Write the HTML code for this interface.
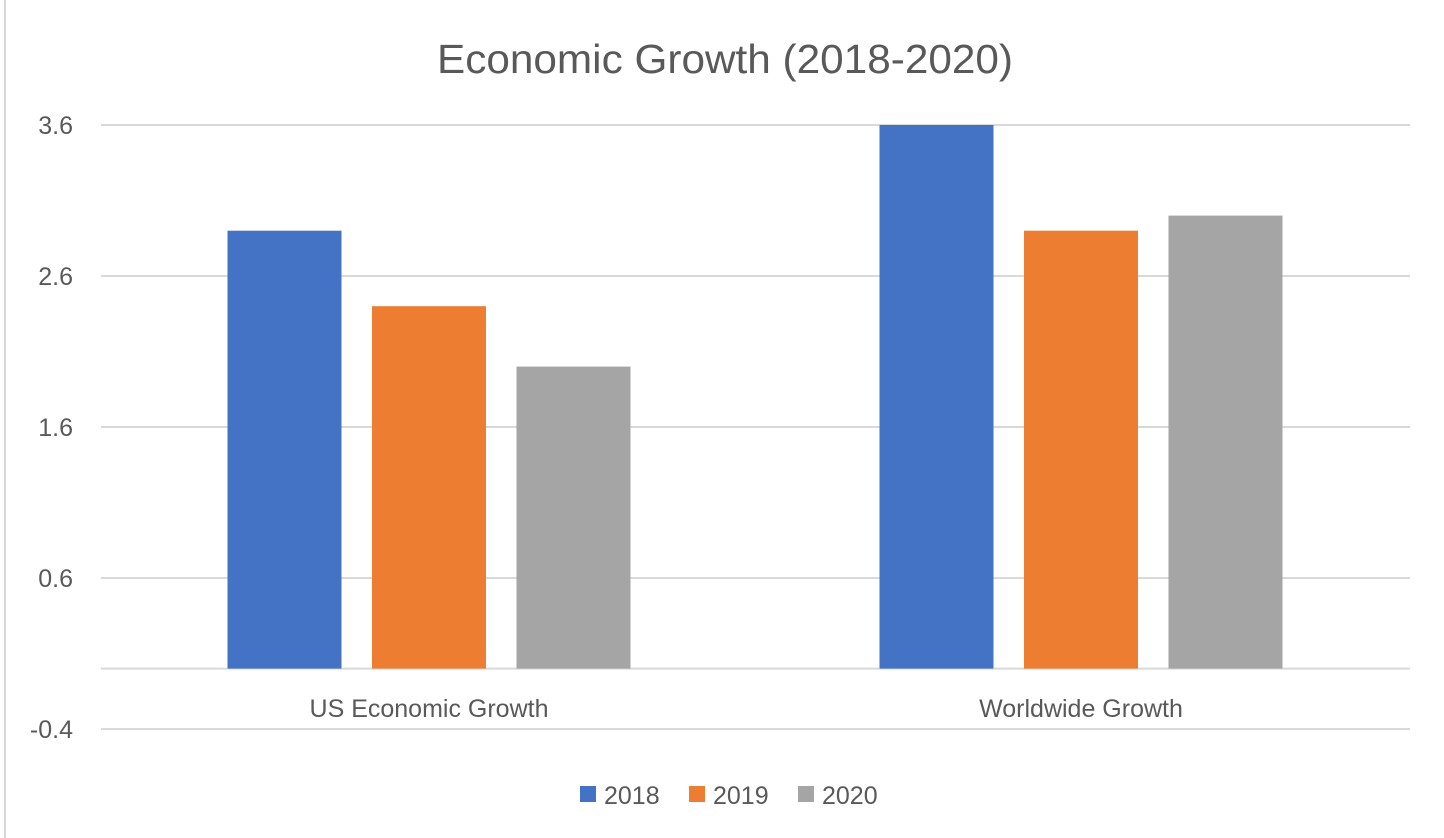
<!DOCTYPE html>
<html><head><meta charset="utf-8"><style>
body{margin:0;background:#fff}
svg{display:block;font-family:"Liberation Sans",sans-serif}
</style></head><body>
<svg width="1444" height="838">
<rect x="5" y="-2" width="1450" height="850" fill="#fff" stroke="#d9d9d9" stroke-width="2"/>
<text x="725" y="73" text-anchor="middle" font-size="41" fill="#595959" textLength="576" lengthAdjust="spacingAndGlyphs">Economic Growth (2018-2020)</text>
<g id="grid"></g><g id="bars"></g><g id="labels"></g>
<g id="legend"></g>
</svg>
<script>
const categories=["US Economic Growth","Worldwide Growth"];
const series=["2018","2019","2020"];
const colors=["#4472c4","#ed7d31","#a5a5a5"];
const v2018=[2.9,3.6];
const v2019=[2.4,2.9];
const v2020=[2.0,3.0];
const ticks=[-0.4,0.6,1.6,2.6,3.6];
const vals=[v2018,v2019,v2020];
const NS="http://www.w3.org/2000/svg";
const x0=103,x1=1407,yTop=125,yBot=729,vMin=-0.4,vMax=3.6;
const y=v=>yBot-(v-vMin)/(vMax-vMin)*(yBot-yTop);
function mk(t,a,p){const e=document.createElementNS(NS,t);for(const k in a)e.setAttribute(k,a[k]);p.appendChild(e);return e;}
const g=document.getElementById('grid'),b=document.getElementById('bars'),l=document.getElementById('labels'),lg=document.getElementById('legend');
ticks.forEach(t=>{
 const ln=mk('line',{x1:101,x2:1410,y1:y(t),y2:y(t),stroke:'#d9d9d9','stroke-width':2},g);
 
 
 const tx=mk('text',{x:73,y:y(t)+9,'text-anchor':'end','font-size':25,fill:'#595959'},g);
 tx.textContent=t.toFixed(1);
 
 
});
const zl=mk('line',{x1:101,x2:1410,y1:y(0),y2:y(0),stroke:'#d9d9d9','stroke-width':2},g);


const cw=(x1-x0)/categories.length,bw=114,step=144.5;
categories.forEach((c,i)=>{
 const cx=x0+cw*(i+0.5);
 vals.forEach((s,j)=>{
  const bx=cx+(j-1)*step-bw/2;
  const r=mk('rect',{x:bx,y:Math.min(y(s[i]),y(0)),width:bw,height:Math.abs(y(0)-y(s[i])),fill:colors[j]},b);
  
  
 });
 const t=mk('text',{x:cx,y:717,'text-anchor':'middle','font-size':25,fill:'#595959'},l);
 t.textContent=c;
 
 
});
series.forEach((s,j)=>{
 const lx=580+j*109;
 const r=mk('rect',{x:lx,y:786,width:16,height:16,fill:colors[j]},lg);
 
 
 const t=mk('text',{x:lx+24,y:804,'font-size':25,fill:'#595959'},lg);
 t.textContent=s;
 
 
});
</script>
</body></html>
